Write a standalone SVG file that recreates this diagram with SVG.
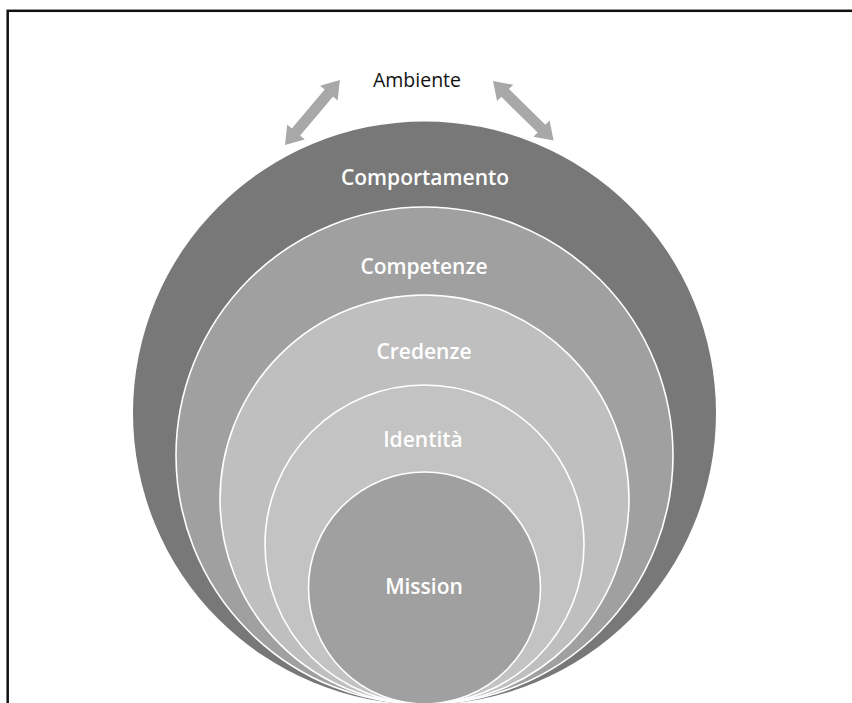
<svg xmlns="http://www.w3.org/2000/svg" width="852" height="703" viewBox="0 0 852 703">
  <style>
    .lbl { font-family: "Open Sans", "Liberation Sans", sans-serif; font-size: 21px; font-weight: 600; fill: #ffffff; text-anchor: middle; }
    .amb { font-family: "Open Sans", "Liberation Sans", sans-serif; font-size: 19.5px; fill: #111111; text-anchor: middle; }
    .ring { stroke: #ffffff; stroke-width: 1.6; }
    .arrow { fill: #a8a8a8; }
  </style>
  <defs>
    <path id="dbl" d="M0,0 L17,-11.5 L17,-5.5 L68,-5.5 L68,-11.5 L85,0 L68,11.5 L68,5.5 L17,5.5 L17,11.5 Z"/>
  </defs>
  <rect width="852" height="703" fill="#ffffff"/>
  <rect x="7.7" y="10.8" width="900" height="800" fill="none" stroke="#111111" stroke-width="2.5"/>

  <g id="comportamento">
    <circle cx="424.5" cy="413" r="291.5" fill="#787878"/>
    <text class="lbl" x="425" y="185">Comportamento</text>
  </g>
  <g id="competenze">
    <circle class="ring" cx="424.5" cy="455.5" r="248.5" fill="#a0a0a0"/>
    <text class="lbl" x="424" y="274">Competenze</text>
  </g>
  <g id="credenze">
    <circle class="ring" cx="424.5" cy="499.5" r="204.5" fill="#bfbfbf"/>
    <text class="lbl" x="424" y="359">Credenze</text>
  </g>
  <g id="identita">
    <circle class="ring" cx="424.5" cy="544.5" r="159.5" fill="#c3c3c3"/>
    <text class="lbl" x="423" y="447">Identità</text>
  </g>
  <g id="mission">
    <circle class="ring" cx="424.5" cy="588" r="116" fill="#a0a0a0"/>
    <text class="lbl" x="424" y="594">Mission</text>
  </g>
  <g id="ambiente">
    <text class="amb" x="417" y="87">Ambiente</text>
  </g>

  <g id="connectors">
    <use href="#dbl" class="arrow" transform="translate(285,145) rotate(-49.8)"/>
    <use href="#dbl" class="arrow" transform="translate(493,81) rotate(44.5)"/>
  </g>
</svg>
